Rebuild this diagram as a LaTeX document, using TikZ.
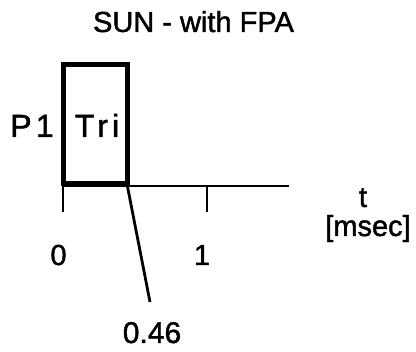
\documentclass[tikz,border=0pt]{standalone}
\usepackage{fontspec}
\setmainfont[FakeBold=1.5]{Liberation Sans}
\newfontfamily\widefont[LetterSpace=13, FakeBold=1.5]{Liberation Sans}
\usepackage{tikz}
\usetikzlibrary{positioning}

\begin{document}
\begin{tikzpicture}[x=1pt, y=-1pt, line width=2.8pt,
    lbl/.style={font=\fontsize{29}{33}\selectfont, inner sep=0pt, anchor=base},
    widelbl/.style={lbl, font=\fontsize{32}{36}\selectfont\widefont},
    pulsebox/.style={draw, line width=5pt, minimum width=64pt, minimum height=119pt, inner sep=0pt, outer sep=0pt}]
    \useasboundingbox (0,0) rectangle (416,352);

    \node [lbl] (title) at (193.5,32) {SUN - with FPA};

    % pulse P1 (Tri)
    \node [pulsebox] (pulse) at (95,124.5) {};
    \node [widelbl] (tri) at (97,137) {Tri};
    \node [widelbl] (p1) at (32,137) {P1};

    % time axis
    \coordinate (origin) at (63,186);
    \coordinate (axisend) at (289,186);
    \coordinate (one) at (207,186);
    \draw (origin) -- (axisend);
    \draw (origin) -- ++(0,26);
    \draw (one) -- ++(0,26);
    \node [lbl] (zero) at (58.5,265) {0};
    \node [lbl] (onelbl) at (202,265) {1};
    \node [lbl] (t) at (363,207) {t};
    \node [lbl] (unit) at (368,236) {[msec]};

    % pulse end marker
    \coordinate (tend) at (pulse.south east);
    \coordinate (leadend) at (150,302);
    \draw (tend) -- (leadend);
    \node [lbl, font=\fontsize{30}{34}\selectfont] (val) at (152,343) {0.46};
\end{tikzpicture}
\end{document}
